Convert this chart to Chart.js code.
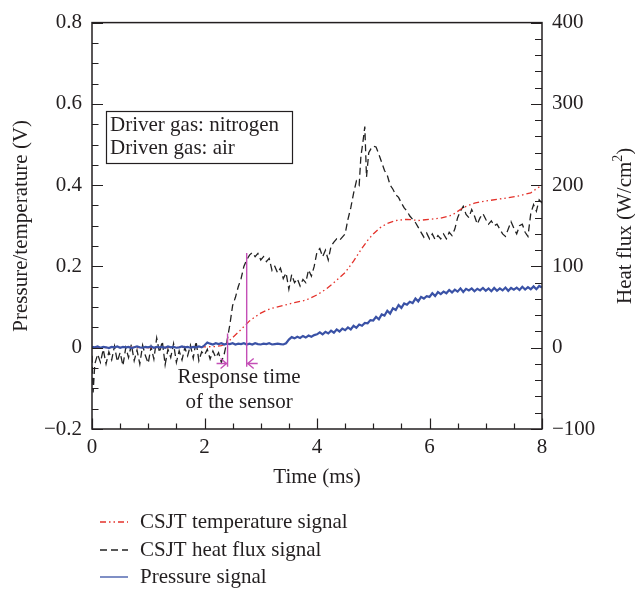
<!DOCTYPE html>
<html><head><meta charset="utf-8">
<script src="https://cdn.jsdelivr.net/npm/chart.js@4.4.1/dist/chart.umd.min.js"></script>
<style>html,body{margin:0;padding:0;background:#fff}canvas{display:block}</style>
</head><body>
<canvas id="c" width="635" height="590"></canvas>
<script>
// ---------- data ----------
const xTickLabels = [0, 2, 4, 6, 8];
const leftTickLabels = [-0.2, 0, 0.2, 0.4, 0.6, 0.8];
const rightTickLabels = [-100, 0, 100, 200, 300, 400];

const seriesNames = ['CSJT temperature signal', 'CSJT heat flux signal', 'Pressure signal'];

// CSJT temperature signal (V, left axis)
const tempTime = [0, 0.5, 1.0, 1.5, 2.0, 2.2, 2.3, 2.35, 2.4, 2.5, 2.6, 2.7, 2.8, 2.9, 3.0, 3.1, 3.2, 3.4, 3.6, 3.8, 4.0, 4.17, 4.35, 4.5, 4.65, 4.8, 4.9, 5.0, 5.12, 5.25, 5.4, 5.6, 5.8, 6.0, 6.2, 6.4, 6.6, 6.8, 7.0, 7.3, 7.6, 7.8, 7.9, 8.0];
const tempValue = [0, 0.001, 0, 0.001, 0.002, 0.003, 0.005, 0.008, 0.012, 0.025, 0.038, 0.052, 0.066, 0.076, 0.085, 0.092, 0.097, 0.104, 0.111, 0.117, 0.13, 0.145, 0.166, 0.185, 0.213, 0.245, 0.264, 0.28, 0.295, 0.306, 0.313, 0.316, 0.313, 0.316, 0.319, 0.326, 0.345, 0.356, 0.361, 0.367, 0.374, 0.381, 0.391, 0.40];

// CSJT heat flux signal (W/cm2, right axis)
const hfTime = [0, 0.02, 0.05,
  0.10,0.15,0.20,0.25,0.30,0.35,0.40,0.45,0.50,0.55,0.60,0.65,0.70,0.75,0.80,0.85,0.90,0.95,
  1.00,1.05,1.10,1.15,1.20,1.25,1.30,1.35,1.40,1.45,1.50,1.55,1.60,1.65,1.70,1.75,1.80,1.85,1.90,1.95,
  2.00,2.05,2.10,2.15,2.20,2.25,2.30,2.35,2.40,2.45,2.50,2.55,2.60,2.65,2.70,2.75,2.80,2.85,2.90,2.95,
  3.00,3.05,3.10,3.15,3.20,3.25,3.30,3.35,3.40,3.45,3.50,3.55,3.60,3.65,3.70,3.75,3.80,3.85,3.90,3.95,
  4.00,4.05,4.10,4.15,4.20,4.25,4.30,4.35,4.40,4.45,4.50,4.55,4.60,4.65,4.70,4.75,4.78,4.82,4.85,4.88,4.92,4.96,
  5.00,5.05,5.10,5.15,5.20,5.25,5.30,5.35,5.40,5.45,5.50,5.55,5.60,5.65,5.70,5.75,5.80,5.85,5.90,5.95,
  6.00,6.05,6.10,6.15,6.20,6.25,6.30,6.35,6.40,6.45,6.50,6.55,6.60,6.65,6.70,6.75,6.80,6.85,6.90,6.95,
  7.00,7.05,7.10,7.15,7.20,7.25,7.30,7.35,7.40,7.45,7.50,7.55,7.60,7.65,7.70,7.75,7.80,7.85,7.90,7.95,8.00];
const hfValue = [-10, -55, -20,
  -8,-18,-2,-20,-5,-15,2,-17,-6,-22,0,-12,4,-16,-3,-20,3,-10,
  -19,1,-14,12,-6,8,-21,-2,-12,5,-18,-4,-15,0,-10,3,-13,8,-16,-5,
  -9,-2,-14,-4,-12,-6,-18,-8,8,28,52,62,75,85,100,108,114,117,112,116,
  108,112,106,110,95,100,92,98,85,92,72,90,80,85,76,84,80,96,88,100,
  118,122,112,120,108,125,130,134,132,136,140,158,172,190,205,200,235,255,272,210,240,245,
  248,247,238,228,218,212,200,195,188,185,178,172,168,162,158,154,148,142,136,141,
  134,140,133,138,134,140,134,142,138,146,160,168,174,164,160,170,162,152,160,165,
  158,152,156,150,152,146,140,137,146,155,147,140,150,152,142,137,165,176,168,182,178];

// Pressure signal (V, left axis), sampled every 0.05 ms from 0 to 8 ms
const pressureStep = 0.05;
const pressureValue = [
  0.002,0.001,0.003,0.000,0.002,0.001,-0.001,0.002,0.001,0.003,
  0.000,0.002,0.001,0.002,-0.001,0.001,0.003,0.001,0.000,0.002,
  0.001,0.003,0.000,0.002,0.001,0.002,0.000,0.003,0.001,0.002,
  0.000,0.001,0.003,0.001,0.002,0.000,0.002,0.001,0.003,0.001,
  0.006,0.013,0.010,0.008,0.011,0.009,0.011,0.008,0.010,0.009,
  0.011,0.008,0.010,0.009,0.011,0.008,0.010,0.008,0.011,0.009,
  0.008,0.010,0.009,0.011,0.008,0.009,0.010,0.009,0.008,0.011,
  0.020,0.026,0.023,0.027,0.024,0.029,0.025,0.030,0.027,0.031,
  0.033,0.038,0.033,0.039,0.035,0.042,0.037,0.045,0.040,0.047,
  0.043,0.050,0.045,0.054,0.049,0.057,0.054,0.061,0.060,0.068,
  0.067,0.076,0.070,0.082,0.079,0.091,0.084,0.097,0.093,0.105,
  0.098,0.109,0.106,0.113,0.110,0.121,0.114,0.125,0.121,0.127,
  0.125,0.134,0.127,0.137,0.132,0.138,0.134,0.142,0.136,0.143,
  0.138,0.146,0.137,0.145,0.141,0.146,0.139,0.145,0.141,0.147,
  0.140,0.146,0.139,0.147,0.140,0.146,0.141,0.148,0.140,0.147,
  0.143,0.148,0.142,0.150,0.143,0.149,0.144,0.151,0.144,0.152,
  0.148];

// annotation values (data units)
const responseStart = 2.41, responseEnd = 2.75;
const infoLines = ['Driver gas: nitrogen', 'Driven gas: air'];
const responseLabel = ['Response time', 'of the sensor'];

// ---------- chart ----------
const INK = '#231f20';
const FONT = "'Liberation Serif', 'Times New Roman', serif";
Chart.defaults.font.family = FONT;
Chart.defaults.font.size = 21;
Chart.defaults.color = INK;

const fmt = v => { const r = Math.round(v * 1000) / 1000; return r < 0 ? '\u2212' + String(-r) : String(r); };

const pts = (xs, ys) => ys.map((v, i) => ({ x: xs[i], y: v }));
const pressurePts = pressureValue.map((v, i) => ({ x: Math.round(i * pressureStep * 100) / 100, y: v }));

const framePlugin = {
  id: 'frame',
  afterDatasetsDraw(chart) {
    const { ctx, chartArea: a, scales: { x, y, y2 } } = chart;
    ctx.save();
    ctx.strokeStyle = INK;
    ctx.lineWidth = 1.2;
    ctx.beginPath();
    for (let k = 0; k <= 16; k++) {
      const v = k * 0.5, px = Math.round(x.getPixelForValue(v)) + 0.5;
      const len = (k % 4 === 0) ? 10.5 : 5.5;
      ctx.moveTo(px, a.bottom); ctx.lineTo(px, a.bottom - len);
    }
    for (let k = 0; k <= 20; k++) {
      const v = -0.2 + k * 0.05, py = Math.round(y.getPixelForValue(v)) + 0.5;
      const len = (k % 4 === 0) ? 11 : 6.5;
      ctx.moveTo(a.left, py); ctx.lineTo(a.left + len, py);
    }
    for (let k = 0; k <= 25; k++) {
      const v = -100 + k * 20, py = Math.round(y2.getPixelForValue(v)) + 0.5;
      const len = (k % 5 === 0) ? 11 : 7;
      ctx.moveTo(a.right, py); ctx.lineTo(a.right - len, py);
    }
    ctx.stroke();
    ctx.lineWidth = 1.5;
    ctx.strokeRect(a.left, a.top, a.right - a.left, a.bottom - a.top);

    // info box
    ctx.font = '21px ' + FONT;
    ctx.fillStyle = INK;
    ctx.textBaseline = 'middle';
    ctx.textAlign = 'left';
    ctx.lineWidth = 1.2;
    ctx.strokeRect(106.5, 111.5, 186, 52);
    ctx.fillText(infoLines[0], 110, 125);
    ctx.fillText(infoLines[1], 110, 148);

    // response-time marks
    const mag = '#c44fb6';
    const xs = x.getPixelForValue(responseStart), xe = x.getPixelForValue(responseEnd);
    const yArrow = y.getPixelForValue(-0.039);
    ctx.strokeStyle = mag; ctx.lineWidth = 1.4;
    ctx.beginPath();
    ctx.moveTo(xs, y.getPixelForValue(0.035)); ctx.lineTo(xs, y.getPixelForValue(-0.047));
    ctx.moveTo(xe, y.getPixelForValue(0.233)); ctx.lineTo(xe, y.getPixelForValue(-0.047));
    ctx.moveTo(xs - 11, yArrow); ctx.lineTo(xs - 1, yArrow);
    ctx.moveTo(xs - 7, yArrow - 5); ctx.lineTo(xs - 1, yArrow); ctx.lineTo(xs - 7, yArrow + 5);
    ctx.moveTo(xe + 11, yArrow); ctx.lineTo(xe + 1, yArrow);
    ctx.moveTo(xe + 7, yArrow - 5); ctx.lineTo(xe + 1, yArrow); ctx.lineTo(xe + 7, yArrow + 5);
    ctx.stroke();
    ctx.textAlign = 'center';
    ctx.fillStyle = INK;
    const cx = (xs + xe) / 2 + 2;
    ctx.fillText(responseLabel[0], cx, 377);
    ctx.fillText(responseLabel[1], cx, 402);

    // right axis title (reads bottom-to-top)
    ctx.save();
    ctx.translate(625, (a.top + a.bottom) / 2);
    ctx.rotate(-Math.PI / 2);
    const main = 'Heat flux (W/cm', sup = '2', close = ')';
    ctx.font = '21px ' + FONT;
    const w1 = ctx.measureText(main).width, w3 = ctx.measureText(close).width;
    ctx.font = '14px ' + FONT;
    const w2 = ctx.measureText(sup).width;
    const start = -(w1 + w2 + w3) / 2;
    ctx.textAlign = 'left';
    ctx.font = '21px ' + FONT;
    ctx.fillText(main, start, 0);
    ctx.fillText(close, start + w1 + w2, 0);
    ctx.font = '14px ' + FONT;
    ctx.fillText(sup, start + w1, -7);
    ctx.restore();

    // legend
    const ly = [522, 550, 577];
    const order = [1, 2, 0];
    ctx.font = '21px ' + FONT;
    ctx.textAlign = 'left';
    order.forEach((di, i) => {
      const ds = chart.data.datasets[di];
      ctx.strokeStyle = ds.borderColor;
      ctx.lineWidth = ds.legendWidth;
      ctx.setLineDash(ds.borderDash || []);
      ctx.beginPath(); ctx.moveTo(100, ly[i]); ctx.lineTo(128, ly[i]); ctx.stroke();
      ctx.setLineDash([]);
      ctx.fillStyle = INK;
      ctx.fillText(ds.label, 140, ly[i]);
    });
    ctx.restore();
  }
};

new Chart(document.getElementById('c'), {
  type: 'line',
  data: {
    datasets: [
      { label: seriesNames[2], data: pressurePts, yAxisID: 'y', borderColor: '#3a52a6', borderWidth: 2.2, legendWidth: 1.3, pointRadius: 0, tension: 0 },
      { label: seriesNames[0], data: pts(tempTime, tempValue), yAxisID: 'y', borderColor: '#e4322b', borderWidth: 1.3, legendWidth: 1.3, borderDash: [6, 3, 1.5, 3, 1.5, 3], pointRadius: 0, tension: 0 },
      { label: seriesNames[1], data: pts(hfTime, hfValue), yAxisID: 'y2', borderColor: '#222222', borderWidth: 1.3, legendWidth: 1.3, borderDash: [7, 4], pointRadius: 0, tension: 0 }
    ]
  },
  options: {
    responsive: false,
    animation: false,
    layout: { padding: { top: 17, bottom: 100, left: 0, right: 0 } },
    plugins: { legend: { display: false }, tooltip: { enabled: false } },
    scales: {
      x: {
        type: 'linear', min: 0, max: 8,
        afterBuildTicks: s => { s.ticks = xTickLabels.map(v => ({ value: v })); },
        ticks: { padding: 6, callback: fmt, maxRotation: 0 },
        grid: { display: false, drawTicks: false }, border: { display: false },
        title: { display: true, text: 'Time (ms)', padding: { top: 0, bottom: 0 } },
        afterFit: s => { s.height = 61; }
      },
      y: {
        position: 'left', min: -0.2, max: 0.8,
        afterBuildTicks: s => { s.ticks = leftTickLabels.map(v => ({ value: v })); },
        ticks: { padding: 10, callback: fmt },
        grid: { display: false, drawTicks: false }, border: { display: false },
        title: { display: true, text: 'Pressure/temperature (V)', padding: { top: 9, bottom: 0 } },
        afterFit: s => { s.width = 92; }
      },
      y2: {
        position: 'right', min: -100, max: 400,
        afterBuildTicks: s => { s.ticks = rightTickLabels.map(v => ({ value: v })); },
        ticks: { padding: 10, callback: fmt },
        grid: { display: false, drawTicks: false, drawOnChartArea: false }, border: { display: false },
        afterFit: s => { s.width = 93; }
      }
    }
  },
  plugins: [framePlugin]
});
</script>
</body></html>
